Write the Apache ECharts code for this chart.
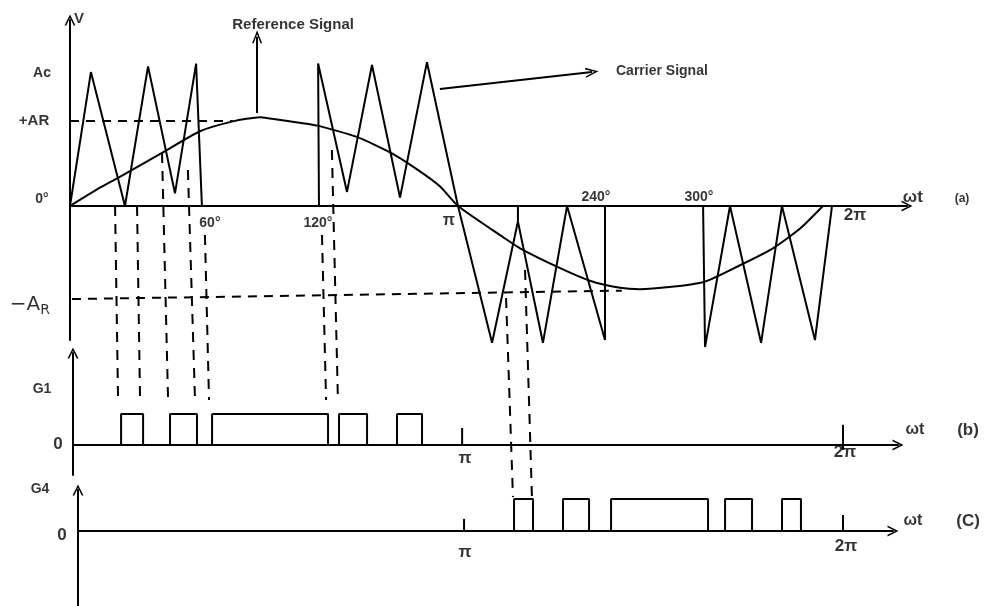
<!DOCTYPE html>
<html><head><meta charset="utf-8">
<script src="https://cdn.jsdelivr.net/npm/echarts@6/dist/echarts.min.js"></script>
<style>html,body{margin:0;padding:0;background:#fff}#c{width:996px;height:606px}</style>
</head><body><div id="c"></div>
<script>
// ---- data (x in degrees of ωt, y in units of carrier amplitude / gate level) ----
const carrierSeg1 = [[0,0],[9.7,0.95],[25.5,0],[36.2,0.99],[48.7,0.09],[58.5,1.01],[61.2,0]];
const carrierSeg2 = [[115.5,0],[115.1,1.01],[128.5,0.1],[140.1,1.0],[153.1,0.06],[165.6,1.02],[180,0]];
const carrierSeg3 = [[180,0],[195.8,-0.97],[207.8,-0.11],[219.4,-0.97],[230.6,0],[248.2,-0.95],[248.2,0]];
const carrierSeg4 = [[293.7,0],[294.6,-1.0],[306.2,0],[320.6,-0.97],[330.3,0],[345.6,-0.95],[353.5,0]];
const carrierTick = [[207.8,-0.11],[207.8,0]];
const reference = [[0,0],[13.9,0.13],[22.3,0.2],[43.1,0.38],[60.3,0.53],[75.6,0.6],[88.1,0.63],[92.8,0.62],
  [114.6,0.57],[133.1,0.49],[148.5,0.38],[161,0.26],[171.6,0.14],[180,0],[201.8,-0.23],
  [208.8,-0.3],[225.9,-0.43],[241.2,-0.53],[255.2,-0.58],[264.4,-0.59],[293.7,-0.54],[310.8,-0.42],
  [326.1,-0.3],[338.7,-0.16],[349.3,0]];
const posARLine = [[0,0.603],[75.6,0.603]];
const negARLine = [[0.9,-0.66],[256,-0.6]];
const projectionLines = [
  [[20.9,0],[22.3,-1.376]], [[31.1,0],[32.5,-1.376]], [[42.7,0.376],[45.5,-1.376]],
  [[54.7,0.255],[58.0,-1.376]], [[62.6,-0.206],[64.5,-1.376]], [[116.9,-0.206],[118.8,-1.376]],
  [[121.5,0.397],[124.3,-1.376]], [[202.3,-0.652],[205.5,-2.064]], [[211.1,-0.454],[214.3,-2.064]]
];
const g1Pulses = [[23.7,33.9],[46.4,58.9],[65.9,119.7],[124.8,137.8],[151.7,163.3]];
const g4Pulses = [[206.0,214.8],[228.7,240.8],[251.0,296.0],[303.9,316.4],[330.3,339.1]];
const g1Ticks = [[[181.9,0],[181.9,0.55]], [[358.6,-0.16],[358.6,0.65]]];
const g4Ticks = [[[182.8,0],[182.8,0.38]], [[358.6,0],[358.6,0.5]]];
const labelsA = [
  ['V',4.2,1.33,15],['Ac',-13,0.943,14],['+AR',-16.7,0.603,15],['0°',-13,0.05,14],
  ['60°',64.9,-0.121,14],['120°',115,-0.121,14],['π',175.8,-0.106,16],
  ['240°',244,0.064,14],['300°',291.8,0.064,14],['2π',364.2,-0.064,17],
  ['ωt',391,0.064,17],['(a)',413.8,0.05,12],
  ['Reference Signal',103.5,1.284,15],['Carrier Signal',274.6,0.957,14]
];
const labelsB = [['G1',-13,1.806,14],['0',-5.6,0.03,17],['π',183.2,-0.42,17],['2π',359.5,-0.226,17],
  ['ωt',392,0.484,16],['(b)',416.6,0.484,17]];
const labelsC = [['G4',-13.9,1.3125,14],['0',-3.7,-0.125,17],['π',183.2,-0.656,17],['2π',360,-0.469,17],
  ['ωt',391,0.3125,16],['(C)',416.6,0.3125,17]];
const negARLabel = [-18.6,-0.7];
const refArrow = [[86.8,0.66],[86.8,1.2]];
const carArrow = [[171.6,0.83],[242.2,0.95]];

// ---- chart ----
const INK = '#000';
const chevron = 'path://M0,10 L5,0 L10,10 L8.4,10 L5,3 L1.6,10 Z';
function pulseWave(p){ const out=[]; p.forEach(([a,b])=>{out.push([a,0],[a,1],[b,1],[b,0]);}); return out; }
function axisX(gi,min,max){ return {gridIndex:gi,type:'value',min,max,
  axisLine:{onZero:true,lineStyle:{color:INK,width:2},symbol:['none',chevron],symbolSize:[11,13]},
  axisTick:{show:false},axisLabel:{show:false},splitLine:{show:false}}; }
function axisY(gi,min,max){ return {gridIndex:gi,type:'value',min,max,
  axisLine:{onZero:true,lineStyle:{color:INK,width:2},symbol:['none',chevron],symbolSize:[11,13]},
  axisTick:{show:false},axisLabel:{show:false},splitLine:{show:false}}; }
function line(gi,data,opts){ return Object.assign({type:'line',xAxisIndex:gi,yAxisIndex:gi,data,
  symbol:'none',clip:false,silent:true,lineStyle:{color:INK,width:2}},opts||{}); }
function textSeries(gi,arr){ return {type:'scatter',xAxisIndex:gi,yAxisIndex:gi,clip:false,silent:true,
  symbol:'circle',symbolSize:1,itemStyle:{color:'rgba(0,0,0,0)'},
  data:arr.map(([t,x,y,fs])=>({value:[x,y],name:t,label:{fontSize:fs}})),
  label:{show:true,position:'inside',formatter:'{b}',color:INK,fontWeight:'bold',
    textBorderWidth:0,fontFamily:'Liberation Sans, Arial, sans-serif'}}; }
const dashed = {color:INK,width:2,type:[9,7]};
const series = [];
[carrierSeg1,carrierSeg2,carrierSeg3,carrierSeg4,carrierTick].forEach(s=>series.push(line(0,s)));
series.push(line(0,reference,{smooth:0.2}));
series.push(line(0,posARLine,{lineStyle:dashed}));
series.push(line(0,negARLine,{lineStyle:dashed}));
projectionLines.forEach(s=>series.push(line(0,s,{lineStyle:{color:INK,width:2,type:[10,8]}})));
series.push(line(1,pulseWave(g1Pulses)));
series.push(line(2,pulseWave(g4Pulses)));
g1Ticks.forEach(s=>series.push(line(1,s)));
g4Ticks.forEach(s=>series.push(line(2,s)));
series.push(textSeries(0,labelsA));
series.push(textSeries(1,labelsB));
series.push(textSeries(2,labelsC));
series.push({type:'scatter',xAxisIndex:0,yAxisIndex:0,clip:false,silent:true,symbolSize:1,
  itemStyle:{color:'rgba(0,0,0,0)'},data:[negARLabel],
  label:{show:true,position:'inside',formatter:'{a|−A}{s|R}',color:INK,
    rich:{a:{fontSize:20,fontFamily:'DejaVu Sans',color:INK},s:{fontSize:14,fontFamily:'DejaVu Sans',color:INK,padding:[12,0,0,0]}}}});
series.push(line(0,[],{markLine:{silent:true,symbol:['none',chevron],symbolSize:[10,13],label:{show:false},
  lineStyle:{color:INK,width:2,type:'solid'},animation:false,
  data:[[{coord:refArrow[0]},{coord:refArrow[1]}],[{coord:carArrow[0]},{coord:carArrow[1]}]]}}));

const option = {
  animation:false, backgroundColor:'#fff',
  grid:[
    {left:70,right:89,top:20,bottom:266},
    {left:73,right:98,top:353,bottom:131},
    {left:78,right:103,top:490,bottom:0}
  ],
  xAxis:[axisX(0,0,388.3),axisX(1,1.39,384.1),axisX(2,3.71,381.8)],
  yAxis:[axisY(0,-0.95,1.319),axisY(1,-0.968,2.968),axisY(2,-2.344,1.281)],
  series
};
echarts.init(document.getElementById('c'),null,{renderer:'canvas'}).setOption(option);
</script></body></html>
